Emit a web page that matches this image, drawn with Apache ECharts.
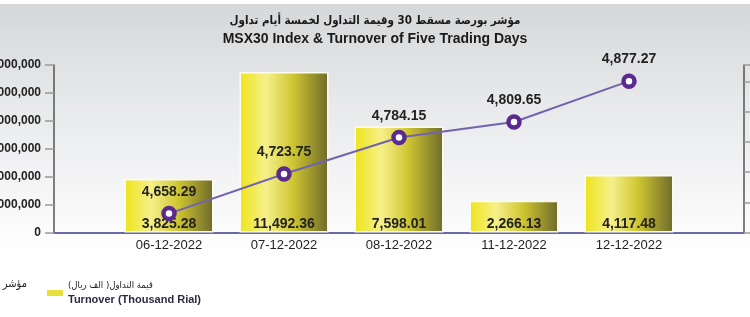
<!DOCTYPE html>
<html>
<head>
<meta charset="utf-8">
<script src="https://cdn.jsdelivr.net/npm/echarts@6/dist/echarts.min.js"></script>
<style>
html,body{margin:0;padding:0;background:#fff;}
#c{width:750px;height:317px;}
</style>
</head>
<body>
<div id="c"></div>
<script>
const titleAr = 'مؤشر بورصة مسقط 30 وقيمة التداول لخمسة أيام تداول';
const titleEn = 'MSX30 Index & Turnover of Five Trading Days';
const dates = ['06-12-2022', '07-12-2022', '08-12-2022', '11-12-2022', '12-12-2022'];
const turnover = [3825.28, 11492.36, 7598.01, 2266.13, 4117.48];
const indexValues = [4658.29, 4723.75, 4784.15, 4809.65, 4877.27];
const leftTicks = [0, 2000, 4000, 6000, 8000, 10000, 12000];
const legendBarAr = 'قيمة التداول( الف ريال)';
const legendBarEn = 'Turnover (Thousand Rial)';
const legendLineAr = 'مؤشر بورصة مسقط 30';

const cats = [''].concat(dates, ['']);
const barData = [null].concat(turnover, [null]);
const lineData = [null].concat(indexValues, [null]);
const fmt2 = v => Number(v).toLocaleString('en-US', {minimumFractionDigits: 2, maximumFractionDigits: 2});
const font = 'Liberation Sans Narrow, Liberation Sans, Arial, DejaVu Sans, sans-serif';
const arFont = 'DejaVu Sans Condensed, DejaVu Sans, sans-serif';

const chart = echarts.init(document.getElementById('c'), null, {renderer: 'canvas'});
chart.setOption({
  animation: false,
  backgroundColor: '#ffffff',
  graphic: [
    {type: 'rect', z: -10, silent: true, shape: {x: 0, y: 4, width: 750, height: 250},
     style: {fill: {type: 'linear', x: 0, y: 0, x2: 0, y2: 1, colorStops: [
       {offset: 0, color: '#d6d7d9'}, {offset: 0.35, color: '#e6e7e9'}, {offset: 1, color: '#ffffff'}]}}},
    {type: 'text', x: 27, y: 284, silent: true,
     style: {text: legendLineAr, align: 'right', verticalAlign: 'middle', fontSize: 11, fill: '#222', fontFamily: arFont}}
  ],
  title: [
    {text: titleAr, left: 'center', top: 10, textStyle: {fontSize: 11.5, fontWeight: 'bold', color: '#1a1a1a', fontFamily: arFont}},
    {text: titleEn, left: 'center', top: 27, textStyle: {fontSize: 14, fontWeight: 'bold', color: '#1a1a1a', fontFamily: font}}
  ],
  legend: {
    data: [{name: 'turnover', icon: 'rect'}],
    left: 42, top: 276,
    itemWidth: 16, itemHeight: 6, itemGap: 8,
    itemStyle: {color: '#e8e03a', borderWidth: 0},
    formatter: () => '{ar|' + legendBarAr + '}\n{en|' + legendBarEn + '}',
    textStyle: {rich: {
      ar: {fontSize: 9.5, color: '#222', lineHeight: 13, fontFamily: arFont},
      en: {fontSize: 11, fontWeight: 'bold', color: '#2a2a44', lineHeight: 14, fontFamily: 'Liberation Sans, Arial, sans-serif'}
    }}
  },
  grid: {left: 54, right: 6, top: 65, bottom: 84.5, containLabel: false, outerBoundsMode: 'none'},
  xAxis: {
    type: 'category', data: cats, boundaryGap: false,
    axisLine: {lineStyle: {color: '#6a6aa8', width: 2}},
    axisTick: {show: false},
    axisLabel: {interval: 0, fontSize: 13, color: '#222', margin: 6, fontFamily: 'Liberation Sans, Arial, sans-serif'},
    splitLine: {show: false}
  },
  yAxis: [
    {
      type: 'value', position: 'left', min: leftTicks[0], max: leftTicks[leftTicks.length - 1], interval: 2000,
      axisLine: {show: true, lineStyle: {color: '#555', width: 1.5}},
      axisTick: {show: true, length: 9, lineStyle: {color: '#999', width: 1.5}},
      axisLabel: {margin: 13, fontSize: 12, fontWeight: 'bold', color: '#222', fontFamily: 'Liberation Sans, Arial, sans-serif',
        formatter: v => (v * 1000).toLocaleString('en-US')},
      splitLine: {show: false}
    },
    {
      type: 'value', position: 'right', min: 4627, max: 4904, interval: 50,
      axisLine: {show: true, lineStyle: {color: '#555', width: 1.5}},
      axisTick: {show: true, length: 9, lineStyle: {color: '#999', width: 1.5}},
      axisLabel: {show: false},
      splitLine: {show: false}
    }
  ],
  series: [
    {
      name: 'turnover', type: 'bar', yAxisIndex: 0, data: barData, barWidth: 89,
      itemStyle: {
        borderColor: '#fbfbf0', borderWidth: 1.5,
        color: {type: 'linear', x: 0, y: 0, x2: 1, y2: 0, colorStops: [
          {offset: 0, color: '#eee41a'}, {offset: 0.3, color: '#f6f08a'},
          {offset: 0.6, color: '#cfc632'}, {offset: 1, color: '#6e6a2a'}]}
      },
      label: {show: true, position: 'insideBottom', distance: 1, fontSize: 14, fontWeight: 'bold', color: '#222',
        fontFamily: 'Liberation Sans, Arial, sans-serif', formatter: p => fmt2(p.value)},
      z: 2
    },
    {
      name: 'index', type: 'line', yAxisIndex: 1, data: lineData,
      lineStyle: {color: '#7262b0', width: 2},
      symbol: 'circle', symbolSize: 11,
      itemStyle: {color: '#ffffff', borderColor: '#5a2a8e', borderWidth: 4.5},
      label: {show: true, position: 'top', distance: 7, fontSize: 14, fontWeight: 'bold', color: '#222',
        fontFamily: 'Liberation Sans, Arial, sans-serif', formatter: p => fmt2(p.value)},
      z: 3
    }
  ]
});
</script>
</body>
</html>
